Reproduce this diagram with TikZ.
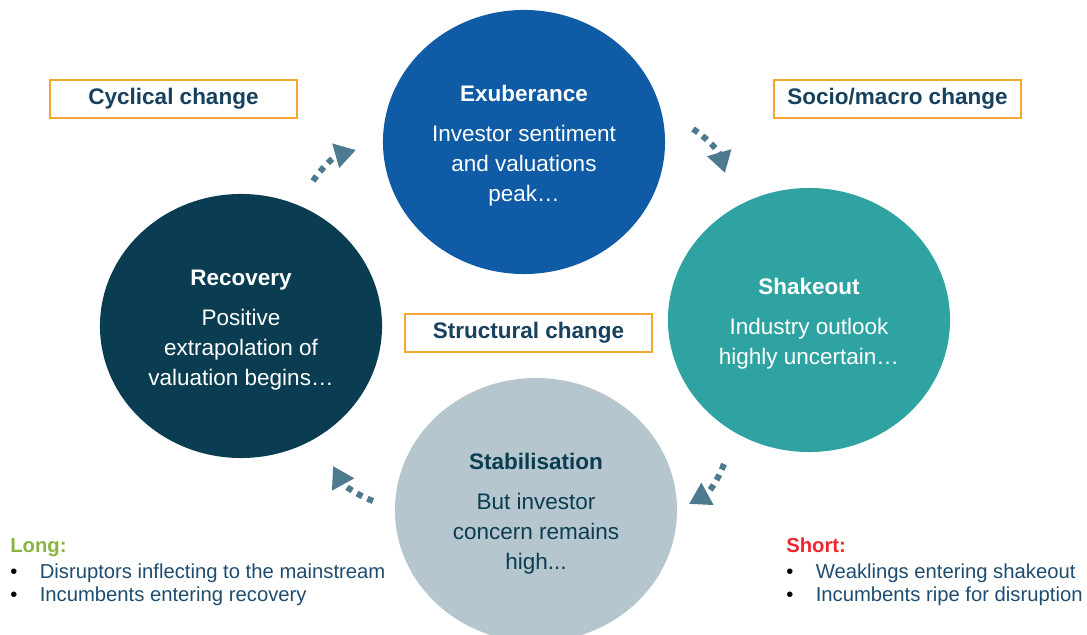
\documentclass[tikz,border=0pt]{standalone}
\usepackage{fontspec}
\setmainfont{Liberation Sans}
\usepackage{xcolor}
\usepackage{tikz}
\usetikzlibrary{shapes.geometric, arrows.meta, positioning}

\definecolor{exubblue}{HTML}{0F5BA5}
\definecolor{recovnavy}{HTML}{0A3D52}
\definecolor{shaketeal}{HTML}{2FA3A2}
\definecolor{stabgrey}{HTML}{B6C6CE}
\definecolor{tagorange}{HTML}{F2A733}
\definecolor{tagtext}{HTML}{17415E}
\definecolor{cyclearrowcol}{HTML}{4E7A90}
\definecolor{longgreen}{HTML}{8AB43F}
\definecolor{shortred}{HTML}{F0262E}
\definecolor{listtext}{HTML}{1D4C6E}

\newcommand{\itembul}{\makebox[21pt][l]{\color{black}\textbullet}}
\newcommand{\stagetitle}[1]{\rule{0pt}{17pt}\textbf{#1}\\[7pt]}

\begin{document}
\begin{tikzpicture}[
        x=0.025cm, y=-0.025cm,
        stage/.style={ellipse, minimum width=7.05cm, minimum height=6.6cm, inner sep=0pt, align=center, text=white,
            font=\fontsize{16}{21.3}\selectfont},
        tagbox/.style={rectangle, draw=tagorange, line width=2pt, fill=white, minimum width=6.175cm, minimum height=0.95cm,
            text=tagtext, font=\fontsize{16}{19}\selectfont\bfseries},
        cyclearrow/.style={-{Triangle[length=15pt,width=17pt]}, draw=cyclearrowcol, line width=4.3pt,
            dash pattern=on 4.3pt off 4pt},
        sidelist/.style={anchor=north west, align=left, inner sep=0pt, text=listtext,
            font=\fontsize{14.4}{16.4}\selectfont}
    ]
        \useasboundingbox (0,0) rectangle (1087,635);
        \clip (0,0) rectangle (1087,635);

        % the four stages of the cycle
        \node[stage, fill=exubblue] (exub) at (524,142) {\stagetitle{Exuberance} Investor sentiment\\ and valuations\\ peak\dots};
        \node[stage, fill=shaketeal] (shake) at (809,320) {\stagetitle{Shakeout} Industry outlook\\ highly uncertain\dots};
        \node[stage, fill=stabgrey, text=recovnavy] (stab) at (536,510) {\stagetitle{Stabilisation} But investor\\ concern remains\\ high...};
        \node[stage, fill=recovnavy] (recov) at (241,326) {\stagetitle{Recovery} Positive\\ extrapolation of\\ valuation begins\dots};

        % kinds of change
        \node[tagbox] (cyc) at (173.5,99) {Cyclical change};
        \node[tagbox] (socio) at (897.5,99) {Socio/macro change};
        \node[tagbox] (struct) at (528.5,333) {Structural change};

        % ends of the dotted arrows between the stages
        \coordinate (ra) at (313,181);
        \coordinate (rb) at (356,150);
        \coordinate (ea) at (693,129);
        \coordinate (eb) at (725,173);
        \coordinate (sa) at (724,464);
        \coordinate (sb) at (689,504);
        \coordinate (ta) at (373,501);
        \coordinate (tb) at (333,466);

        \draw[cyclearrow] (ra) to[bend left=20] (rb);
        \draw[cyclearrow] (ea) to[bend left=20] (eb);
        \draw[cyclearrow] (sa) to[bend left=20] (sb);
        \draw[cyclearrow] (ta) to[bend left=20] (tb);

        % long / short lists
        \node[sidelist] (long) at (10,538) {{\color{longgreen}\bfseries Long:}\\[2pt]
            \itembul Disruptors inflecting to the mainstream\\
            \itembul Incumbents entering recovery};
        \node[sidelist] (short) at (786,538) {{\color{shortred}\bfseries Short:}\\[2pt]
            \itembul Weaklings entering shakeout\\
            \itembul Incumbents ripe for disruption};
    \end{tikzpicture}
\end{document}
